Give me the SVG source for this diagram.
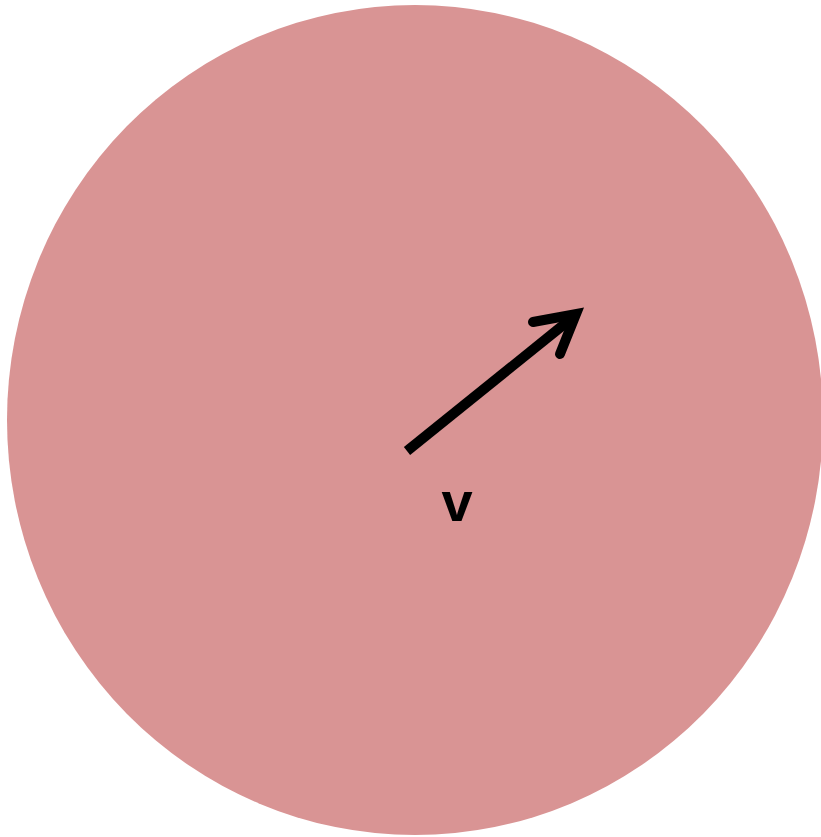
<svg xmlns="http://www.w3.org/2000/svg" width="821" height="837" viewBox="0 0 821 837">
<style>
.arr{fill:none;stroke:#000;stroke-width:10;stroke-linecap:round;stroke-linejoin:miter}
.lbl{font-family:"Liberation Sans",Arial,sans-serif;font-weight:bold;font-size:56px;fill:#000;text-anchor:middle}
</style>
<rect width="821" height="837" fill="#fff"/>
<g id="sphere">
<ellipse cx="415" cy="420" rx="408" ry="415" fill="#D99494"/>
</g>
<g id="connectors">
<line x1="407" y1="451" x2="572" y2="318" stroke="#000" stroke-width="10"/>
<polyline class="arr" points="533,322 576,314 560,354"/>
</g>
<g id="label">
<text class="lbl" x="457" y="521">v</text>
</g>
</svg>
